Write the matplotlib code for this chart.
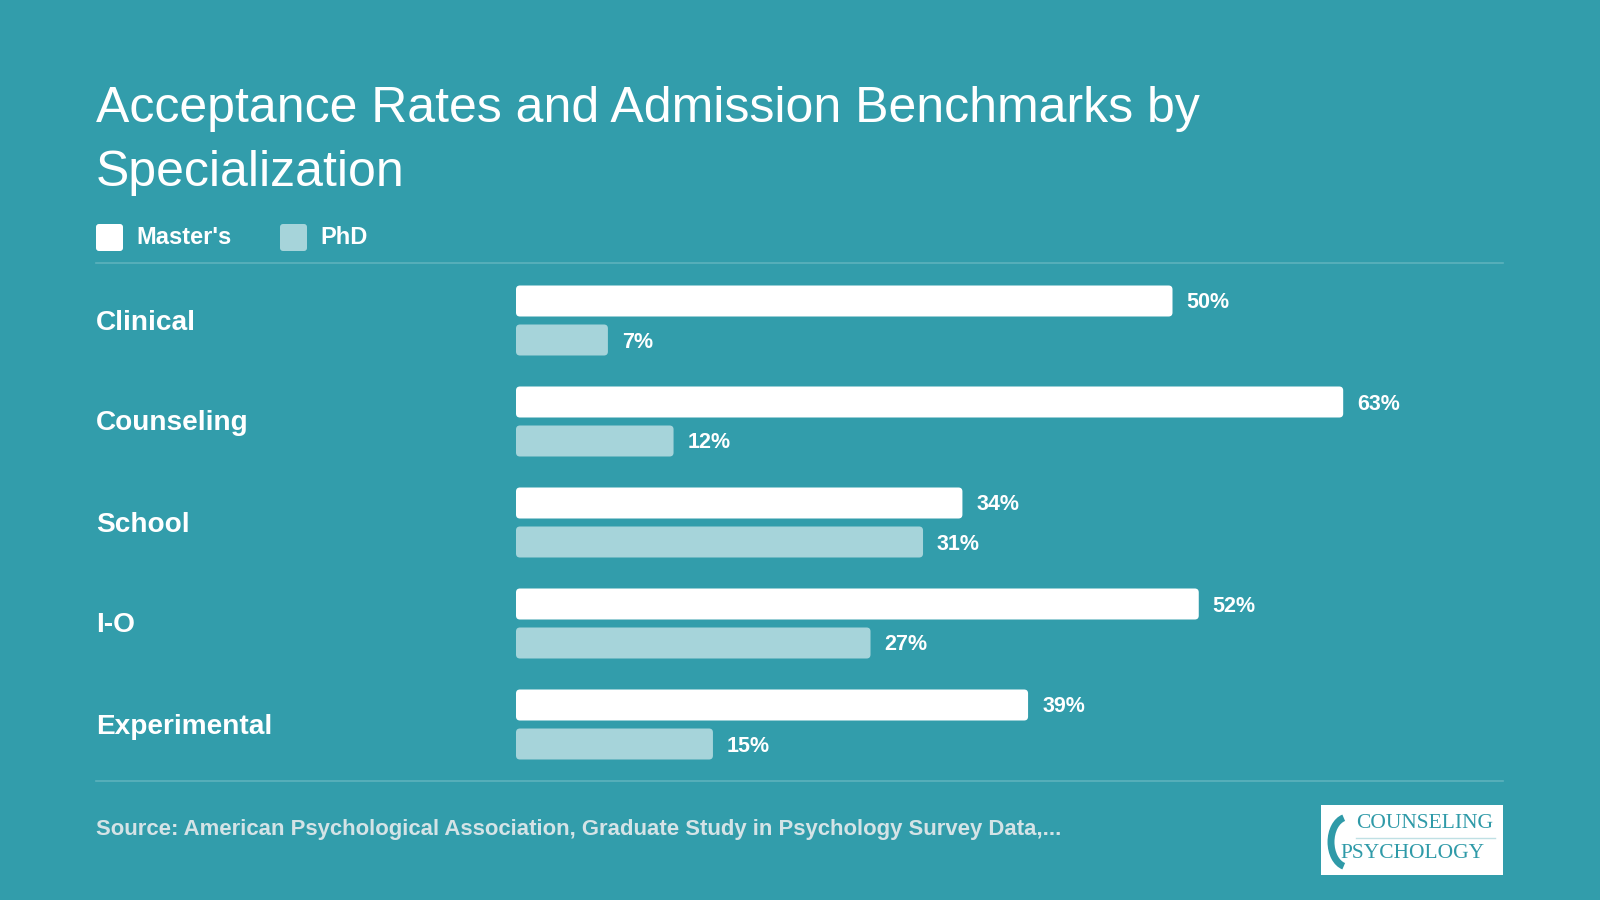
import matplotlib.pyplot as plt
from matplotlib.patches import FancyBboxPatch, Rectangle, Arc

plt.rcParams["font.family"] = ["Liberation Sans", "DejaVu Sans"]

categories = ["Clinical", "Counseling", "School", "I-O", "Experimental"]
masters = [50, 63, 34, 52, 39]
phd = [7, 12, 31, 27, 15]
series_names = ["Master's", "PhD"]

TITLE = "Acceptance Rates and Admission Benchmarks by\nSpecialization"
SOURCE = "Source: American Psychological Association, Graduate Study in Psychology Survey Data,..."

BG = "#329DAB"
MASTER_COLOR = "#FFFFFF"
PHD_COLOR = "#A6D4DA"
RULE_COLOR = "#5DB2BD"
SOURCE_COLOR = "#D4E3E6"
W, H = 1600, 900

fig = plt.figure(figsize=(16, 9), dpi=100, facecolor=BG)

# page layer in pixel coordinates
page = fig.add_axes([0, 0, 1, 1])
page.set_xlim(0, W)
page.set_ylim(H, 0)
page.axis("off")
page.set_zorder(0)

page.text(96, 122, TITLE.split("\n")[0], color="white", fontsize=36, va="baseline", ha="left")
page.text(96, 186, TITLE.split("\n")[1], color="white", fontsize=36, va="baseline", ha="left")

# legend
for x0, name, col in [(96, series_names[0], MASTER_COLOR), (280, series_names[1], PHD_COLOR)]:
    page.add_patch(FancyBboxPatch((x0, 224), 27, 27, boxstyle="round,pad=0,rounding_size=3",
                                  facecolor=col, edgecolor="none"))
    page.text(x0 + 40, 238, name, color="white", fontsize=17, fontweight="bold", va="center")

page.plot([96, 1503], [263, 263], color=RULE_COLOR, lw=1.2)
page.plot([96, 1503], [781, 781], color=RULE_COLOR, lw=1.2)

# category labels
for i, cat in enumerate(categories):
    page.text(96, 322.5 + 101 * i, cat, color="white", fontsize=20.2, fontweight="bold", va="center")

page.text(96, 829.5, SOURCE, color=SOURCE_COLOR, fontsize=15.9, fontweight="bold", va="center")

# logo box
page.add_patch(Rectangle((1321, 805), 182, 70, facecolor="white", edgecolor="none"))
page.add_patch(Arc((1348, 842), 34, 50, theta1=100, theta2=260, color="#2F9AA8", lw=5))
page.text(1356, 824, "COUNSELING", family=["Liberation Serif", "DejaVu Serif"], fontsize=15.5,
          color="#2F9AA8", va="center", ha="left")
page.plot([1356, 1495], [838, 838], color="#BFE0E4", lw=1)
page.text(1340, 853, "PSYCHOLOGY", family=["Liberation Serif", "DejaVu Serif"], fontsize=15.5,
          color="#2F9AA8", va="center", ha="left")

# bar area
left_px, right_px, top_px, bot_px = 516, 1503, 270, 775
ax = fig.add_axes([left_px / W, 1 - bot_px / H, (right_px - left_px) / W, (bot_px - top_px) / H])
ax.set_facecolor("none")
ax.set_zorder(1)
px_per_pct = 13.13
ax.set_xlim(0, (right_px - left_px) / px_per_pct)
ax.set_ylim(len(categories) - 0.5, -0.5)
ax.axis("off")

pitch_px = (bot_px - top_px) / len(categories)
bar_h = 31 / pitch_px
off = 19.5 / pitch_px
ypos = list(range(len(categories)))
aspect = px_per_pct / pitch_px

for vals, shift, col in [(masters, -off, MASTER_COLOR), (phd, off, PHD_COLOR)]:
    bars = ax.barh([y + shift for y in ypos], vals, height=bar_h, color=col)
    for b, v in zip(bars, vals):
        b.set_visible(False)
        x, y0 = b.get_x(), b.get_y()
        ax.add_patch(FancyBboxPatch((x, y0), b.get_width(), b.get_height(),
                                    boxstyle="round,pad=0,rounding_size=0.3",
                                    mutation_aspect=aspect, facecolor=col, edgecolor="none"))
        ax.text(v + 14 / px_per_pct, y0 + b.get_height() / 2 + 2 / pitch_px, f"{v}%", color="white",
                fontsize=15.5, fontweight="bold", va="center", ha="left")

fig.savefig("out.png", dpi=100, facecolor=BG)
